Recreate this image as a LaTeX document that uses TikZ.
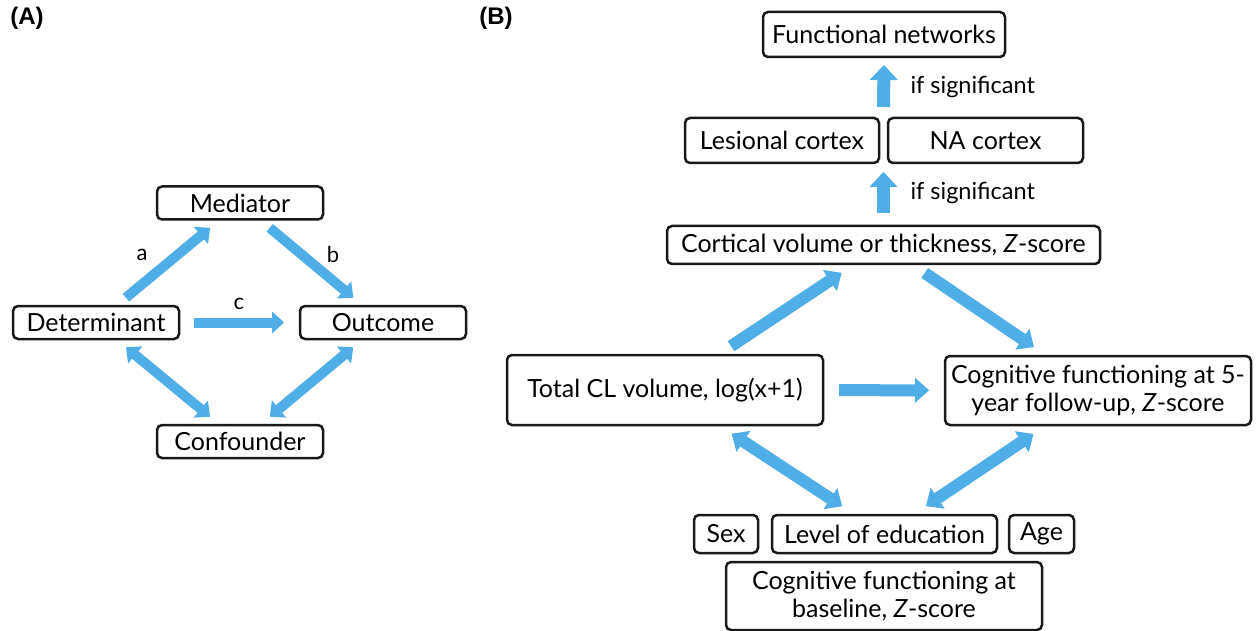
\documentclass[tikz,border=0pt]{standalone}
\usepackage{fontspec}
\setmainfont{Lato}
\newfontfamily\panelfont{Liberation Sans}
\usetikzlibrary{
  arrows.meta,
  positioning,
  calc
}
\definecolor{flowblue}{RGB}{78,174,229}

\begin{document}
\begin{tikzpicture}[
      x=1pt, y=-1pt,
      box/.style={
         rectangle,
         draw=black!90,
         line width=2.5pt,
         rounded corners=5pt,
         inner sep=0pt,
         outer sep=0pt,
         align=center,
         font=\fontsize{25}{28}\selectfont
      },
      panel/.style={font=\panelfont\bfseries\fontsize{24}{28}\selectfont},
      path label/.style={font=\fontsize{22}{26}\selectfont},
      sig label/.style={anchor=west,font=\fontsize{23.5}{27}\selectfont},
      flow a/.style={
         draw=flowblue, line width=10pt,
         shorten <=13pt, shorten >=13pt,
         -{Triangle[length=12pt,width=22pt,line width=1pt]}
      },
      flow a both/.style={flow a,
         {Triangle[length=12pt,width=22pt,line width=1pt]}-{Triangle[length=12pt,width=22pt,line width=1pt]}},
      flow b/.style={
         draw=flowblue, line width=12pt,
         shorten <=16pt, shorten >=16pt,
         -{Triangle[length=14pt,width=25pt,line width=1pt]}
      },
      flow b both/.style={flow b,
         {Triangle[length=14pt,width=25pt,line width=1pt]}-{Triangle[length=14pt,width=25pt,line width=1pt]}},
      flow up/.style={
         draw=flowblue, line width=13pt,
         -{Triangle[length=15pt,width=28pt,line width=1pt]}
      }
    ]
    \useasboundingbox (0,0) rectangle (1259,631);

    % (A) mediation
    \node (labA) [panel] at (27,18) {(A)};
    \node (med)  [box, minimum width=166pt, minimum height=33pt] at (240,203)   {Mediator};
    \node (det)  [box, minimum width=166pt, minimum height=33pt] at (96,322.5)  {Determinant};
    \node (out)  [box, minimum width=166pt, minimum height=33pt] at (383,322.5) {Outcome};
    \node (conf) [box, minimum width=166pt, minimum height=33pt] at (240,441.5) {Confounder};
    \node (pa) [path label] at (142,255) {a};
    \node (pb) [path label] at (333,254) {b};
    \node (pc) [path label] at (239,304) {c};

    \draw[flow a] (det) -- (med);
    \draw[flow a] (med) -- (out);
    \draw[flow a, shorten <=15pt, shorten >=16pt] (det) -- (out);
    \draw[flow a both] (det) -- (conf);
    \draw[flow a both] (out) -- (conf);

    % (B) analysis
    \node (labB) [panel] at (496,18) {(B)};
    \node (fn)   [box, minimum width=242pt, minimum height=45pt] at (884,34.5) {Functional networks};
    \node (les)  [box, minimum width=194pt, minimum height=45pt] at (782,140.5) {Lesional cortex};
    \node (na)   [box, minimum width=195pt, minimum height=45pt, right=9pt of les] {NA cortex};
    \node (cort) [box, minimum width=433pt, minimum height=38pt] at (883.5,245)
                 {Cortical volume or thickness, \textit{Z}-score};
    \node (total)[box, minimum width=316pt, minimum height=70pt] at (665,390) {Total CL volume, log(x+1)};
    \node (cog5) [box, minimum width=306pt, minimum height=69pt] at (1098,390.5)
                 {Cognitive functioning at 5-\\year follow-up, \textit{Z}-score};
    \node (edu)  [box, minimum width=225pt, minimum height=38pt] at (884.5,534) {Level of education};
    \node (sex)  [box, minimum width=64pt, minimum height=38pt, left=14pt of edu] {Sex};
    \node (age)  [box, minimum width=65pt, minimum height=38pt, right=12pt of edu] {Age};
    \node (cogb) [box, minimum width=316pt, minimum height=68pt] at (884,596)
                 {Cognitive functioning at\\baseline, \textit{Z}-score};

    \coordinate (pairlow) at ($(les.south east)!0.5!(na.south west)$);
    \coordinate (pairtop) at ($(les.north east)!0.5!(na.north west)$);
    \node (sig1) [sig label] at (907,87)  {if significant};
    \node (sig2) [sig label] at (907,193) {if significant};

    \draw[flow up] ([yshift=13pt]cort.north) -- ([yshift=-9pt]pairlow);
    \draw[flow up] ([yshift=11pt]pairtop) -- ([yshift=-8pt]fn.south);
    \draw[flow b] (total) -- (cort);
    \draw[flow b] (cort) -- (cog5);
    \draw[flow b] (total) -- (cog5);
    \draw[flow b both] (total) -- (edu);
    \draw[flow b both] (cog5) -- (edu);
\end{tikzpicture}
\end{document}
